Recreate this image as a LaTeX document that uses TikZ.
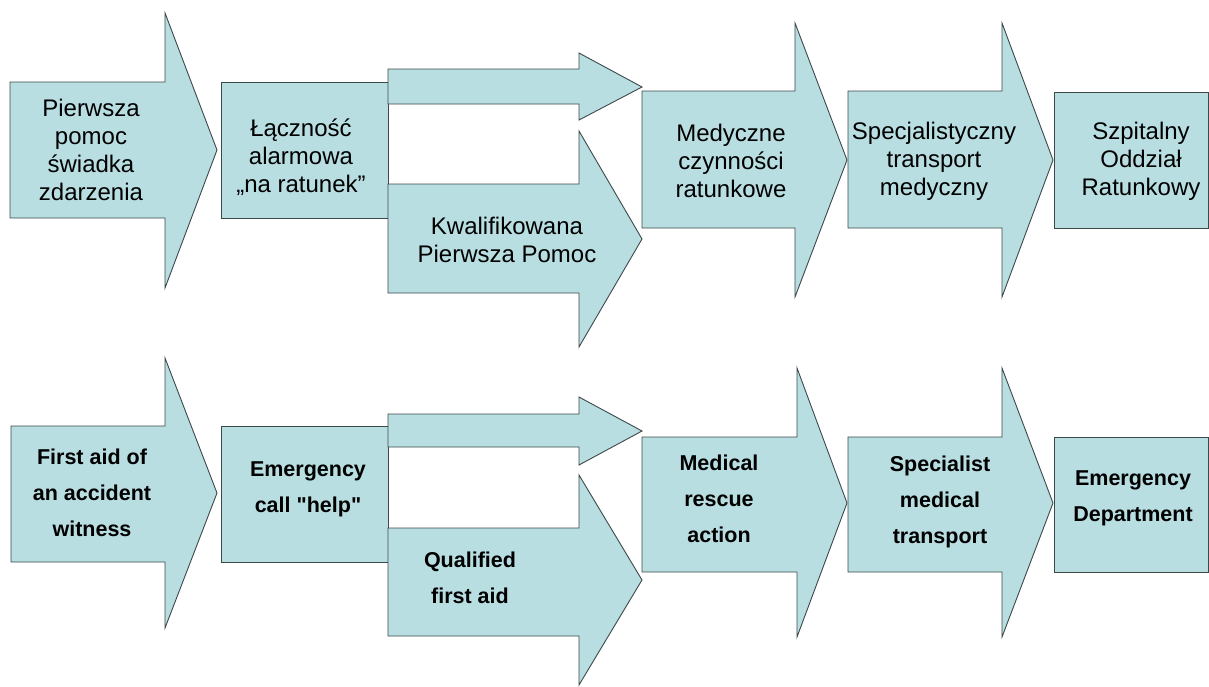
\documentclass[tikz,border=0pt]{standalone}
\usepackage{fontspec}
\newfontfamily\arialfont{Liberation Sans}
\definecolor{boxfill}{RGB}{184,222,226}
\definecolor{boxline}{RGB}{60,72,74}
\newcommand\flowarrow[8]{% L T B R HT HB tip C
  \path[shapestyle] (#1,#2) -- (#4,#2) -- (#4,#5) -- (#7,#8) -- (#4,#6) -- (#4,#3) -- (#1,#3) -- cycle;}
\tikzset{
  shapestyle/.style={fill=boxfill, draw=boxline, line width=0.9pt, line join=miter},
  toptext/.style={align=center, inner sep=0pt, font=\arialfont\fontsize{24}{28}\selectfont},
  bottext/.style={align=center, inner sep=0pt, font=\arialfont\fontsize{21.5}{36}\selectfont\bfseries},
}
\begin{document}
\begin{tikzpicture}[x=1pt,y=-1pt]
\useasboundingbox (0,0) rectangle (1209,686);
% ---- top row ----
\flowarrow{10}{82}{218}{165}{13}{288}{217}{150}
\path[shapestyle] (221,82) rectangle (388,218);
\flowarrow{388}{69}{104}{579}{53}{120}{642}{87}
\flowarrow{388}{184}{293}{579}{131}{347}{642}{239}
\flowarrow{642}{91}{228}{795}{23}{297}{847}{160}
\flowarrow{848}{91}{228}{1002}{23}{297}{1053}{160}
\path[shapestyle] (1054,92) rectangle (1208,228);
\node[toptext] (t1) at (91,150) {Pierwsza\\pomoc\\świadka\\zdarzenia};
\node[toptext] (t2) at (301,157) {Łączność\\alarmowa\\„na ratunek”};
\node[toptext] (t3) at (507,240) {Kwalifikowana\\Pierwsza Pomoc};
\node[toptext] (t4) at (731,161) {Medyczne\\czynności\\ratunkowe};
\node[toptext] (t5) at (934,161) {Specjalistyczny\\transport\\medyczny};
\node[toptext] (t6) at (1141,161) {Szpitalny\\Oddział\\Ratunkowy};
% ---- bottom row ----
\flowarrow{11}{426}{562}{165}{358}{628}{217}{493}
\path[shapestyle] (221,426) rectangle (388,562);
\flowarrow{388}{414}{447}{579}{397}{465}{642}{431}
\flowarrow{388}{528}{636}{579}{475}{685}{642}{580}
\flowarrow{642}{437}{572}{797}{368}{637}{847}{503}
\flowarrow{848}{437}{572}{1002}{368}{637}{1053}{503}
\path[shapestyle] (1054,437) rectangle (1208,572);
\node[bottext] (b1) at (92,493) {First aid of\\an accident\\witness};
\node[bottext] (b2) at (308,489) {Emergency\\call "help"};
\node[bottext] (b3) at (470,578) {Qualified\\first aid};
\node[bottext] (b4) at (719,499) {Medical\\rescue\\action};
\node[bottext] (b5) at (940,502) {Specialist\\medical\\transport};
\node[bottext] (b6) at (1133,498) {Emergency\\Department};
\end{tikzpicture}
\end{document}
